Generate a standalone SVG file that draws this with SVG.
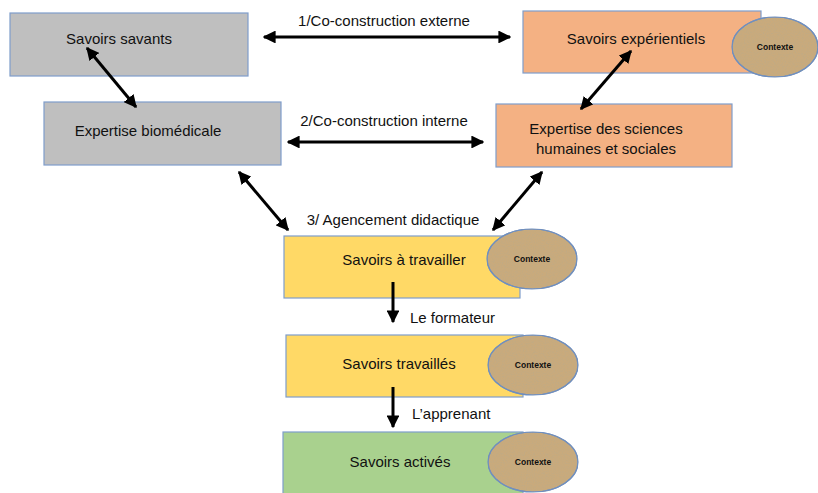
<svg xmlns="http://www.w3.org/2000/svg" width="818" height="493" viewBox="0 0 818 493">
<style>
.box{stroke:#7f9dcb;stroke-width:1.2}
.grey{fill:#bfbfbf}
.orange{fill:#f4b183}
.yellow{fill:#ffd966}
.green{fill:#a9d18e}
.t{font-family:"Liberation Sans",Arial,sans-serif;font-size:15px;fill:#111;text-anchor:middle;dominant-baseline:central}
.ctx{fill:#c9aa7c;stroke:#6f8fbf;stroke-width:1.2}
.ct{font-family:"Liberation Sans",Arial,sans-serif;font-size:8.5px;font-weight:bold;fill:#111;text-anchor:middle;dominant-baseline:central}
.c{stroke:#000;stroke-width:3;fill:none}
</style>
<defs>
<marker id="ah" viewBox="0 0 10 10" refX="9" refY="5" markerWidth="4.3" markerHeight="4.3" orient="auto-start-reverse" markerUnits="strokeWidth">
<path d="M0,0 L10,5 L0,10 Z" fill="#000"/>
</marker>
<filter id="tex" x="0" y="0" width="1" height="1">
<feTurbulence type="fractalNoise" baseFrequency="1.1" numOctaves="2" seed="3" result="n"/>
<feColorMatrix in="n" type="matrix" values="0 0 0 0 0.5  0 0 0 0 0.4  0 0 0 0 0.25  0 0 0 1.6 -0.7" result="m"/>
<feComposite in="m" in2="SourceGraphic" operator="in" result="mm"/>
<feMerge><feMergeNode in="SourceGraphic"/><feMergeNode in="mm"/></feMerge>
</filter>
</defs>
<rect width="818" height="493" fill="#fff"/>

<g id="savants">
<rect class="box grey" x="10" y="13" width="238" height="63"/>
<text class="t" x="119" y="38">Savoirs savants</text>
</g>
<g id="biomedicale">
<rect class="box grey" x="44" y="102" width="237" height="63"/>
<text class="t" x="148" y="130">Expertise biomédicale</text>
</g>
<g id="experientiels">
<rect class="box orange" x="523" y="11" width="238" height="62"/>
<text class="t" x="636" y="38">Savoirs expérientiels</text>
<ellipse class="ctx" cx="775" cy="47" rx="43" ry="30" filter="url(#tex)"/>
<ellipse cx="775" cy="47" rx="43" ry="30" fill="none" stroke="#6f8fbf" stroke-width="1.2"/>
<text class="ct" x="775" y="47">Contexte</text>
</g>
<g id="sciences">
<rect class="box orange" x="496" y="104" width="236" height="63"/>
<text class="t" x="606" y="128">Expertise des sciences</text>
<text class="t" x="606" y="148">humaines et sociales</text>
</g>
<g id="atravailler">
<rect class="box yellow" x="284" y="236" width="236" height="62"/>
<text class="t" x="404" y="259">Savoirs à travailler</text>
<ellipse class="ctx" cx="532" cy="259" rx="45" ry="30" filter="url(#tex)"/>
<ellipse cx="532" cy="259" rx="45" ry="30" fill="none" stroke="#6f8fbf" stroke-width="1.2"/>
<text class="ct" x="532" y="259">Contexte</text>
</g>
<g id="travailles">
<rect class="box yellow" x="286" y="335" width="237" height="62"/>
<text class="t" x="399" y="363">Savoirs travaillés</text>
<ellipse class="ctx" cx="533" cy="365" rx="45" ry="30" filter="url(#tex)"/>
<ellipse cx="533" cy="365" rx="45" ry="30" fill="none" stroke="#6f8fbf" stroke-width="1.2"/>
<text class="ct" x="533" y="365">Contexte</text>
</g>
<g id="actives">
<rect class="box green" x="283" y="432" width="240" height="64"/>
<text class="t" x="400" y="461">Savoirs activés</text>
<ellipse class="ctx" cx="533" cy="462" rx="45" ry="30" filter="url(#tex)"/>
<ellipse cx="533" cy="462" rx="45" ry="30" fill="none" stroke="#6f8fbf" stroke-width="1.2"/>
<text class="ct" x="533" y="462">Contexte</text>
</g>

<g id="connectors">
<line class="c" x1="264" y1="37" x2="510" y2="37" marker-start="url(#ah)" marker-end="url(#ah)"/>
<line class="c" x1="288" y1="142" x2="483" y2="142" marker-start="url(#ah)" marker-end="url(#ah)"/>
<line class="c" x1="87" y1="48" x2="136" y2="107" marker-start="url(#ah)" marker-end="url(#ah)"/>
<line class="c" x1="631" y1="51" x2="581" y2="109" marker-start="url(#ah)" marker-end="url(#ah)"/>
<line class="c" x1="239" y1="172" x2="288" y2="230" marker-start="url(#ah)" marker-end="url(#ah)"/>
<line class="c" x1="542" y1="172" x2="493" y2="230" marker-start="url(#ah)" marker-end="url(#ah)"/>
<line class="c" x1="393" y1="282" x2="393" y2="322" marker-end="url(#ah)"/>
<line class="c" x1="393" y1="387" x2="393" y2="427" marker-end="url(#ah)"/>
<text class="t" x="384" y="20">1/Co-construction externe</text>
<text class="t" x="384" y="120">2/Co-construction interne</text>
<text class="t" x="393" y="219">3/ Agencement didactique</text>
<text class="t" x="410" y="317" style="text-anchor:start">Le formateur</text>
<text class="t" x="412" y="413" style="text-anchor:start">L’apprenant</text>
</g>
</svg>
